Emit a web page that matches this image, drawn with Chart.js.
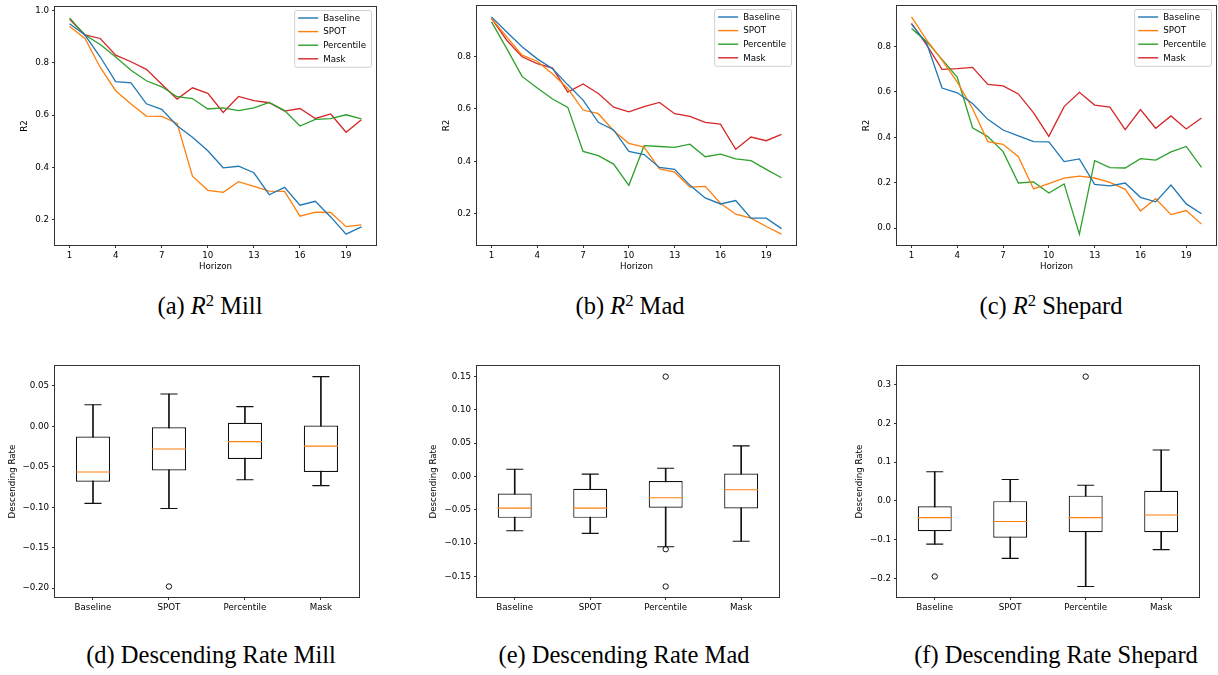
<!DOCTYPE html>
<html>
<head>
<meta charset="utf-8">
<script src="https://cdn.jsdelivr.net/npm/chart.js@4.4.1/dist/chart.umd.min.js"></script>
<style>
  body { margin:0; background:#fff; width:1218px; height:675px; position:relative; overflow:hidden; }
  .cap { position:absolute; font-family:"Liberation Serif", serif; font-size:24.5px; line-height:28px;
         transform:translateX(-50%); white-space:nowrap; color:#000; }
  .cap sup { font-size:0.68em; line-height:0; vertical-align:0.5em; }
</style>
</head>
<body>
<div class="cap" style="left:210px;top:292px">(a) <i>R</i><sup>2</sup> Mill</div>
<div class="cap" style="left:630px;top:292px">(b) <i>R</i><sup>2</sup> Mad</div>
<div class="cap" style="left:1051px;top:292px">(c) <i>R</i><sup>2</sup> Shepard</div>
<div class="cap" style="left:211px;top:641px">(d) Descending Rate Mill</div>
<div class="cap" style="left:624px;top:641px">(e) Descending Rate Mad</div>
<div class="cap" style="left:1056px;top:641px">(f) Descending Rate Shepard</div>
<script>
/* ============ DATA ============== */
const horizon = [1,2,3,4,5,6,7,8,9,10,11,12,13,14,15,16,17,18,19,20];
const horizonTicks = [1,4,7,10,13,16,19];
const methods = ["Baseline","SPOT","Percentile","Mask"];
const methodColors = ["#1f77b4","#ff7f0e","#2ca02c","#d62728"];

// R2 per horizon
const millBaseline   = [0.949,0.906,0.822,0.728,0.723,0.643,0.622,0.559,0.515,0.463,0.398,0.404,0.379,0.295,0.323,0.255,0.270,0.210,0.144,0.172];
const millSpot       = [0.939,0.893,0.782,0.693,0.642,0.596,0.595,0.568,0.366,0.312,0.304,0.345,0.327,0.309,0.308,0.213,0.228,0.227,0.173,0.180];
const millPercentile = [0.972,0.906,0.870,0.822,0.771,0.731,0.708,0.670,0.663,0.623,0.627,0.617,0.627,0.648,0.617,0.558,0.583,0.586,0.601,0.585];
const millMask       = [0.966,0.907,0.893,0.829,0.804,0.775,0.718,0.661,0.704,0.683,0.610,0.671,0.655,0.647,0.615,0.625,0.587,0.604,0.534,0.582];

const madBaseline   = [0.951,0.893,0.837,0.791,0.753,0.692,0.634,0.549,0.520,0.438,0.426,0.377,0.370,0.309,0.261,0.238,0.251,0.184,0.184,0.144];
const madSpot       = [0.945,0.875,0.805,0.782,0.733,0.678,0.596,0.582,0.517,0.469,0.455,0.372,0.359,0.302,0.305,0.241,0.199,0.184,0.152,0.123];
const madPercentile = [0.932,0.830,0.724,0.680,0.638,0.606,0.438,0.422,0.390,0.309,0.460,0.457,0.454,0.466,0.418,0.428,0.410,0.403,0.370,0.338];
const madMask       = [0.945,0.862,0.799,0.773,0.756,0.664,0.695,0.659,0.607,0.589,0.609,0.625,0.582,0.572,0.549,0.542,0.446,0.493,0.479,0.503];

const shepBaseline   = [0.898,0.813,0.617,0.596,0.549,0.479,0.432,0.406,0.381,0.380,0.293,0.305,0.193,0.186,0.199,0.136,0.116,0.190,0.107,0.064];
const shepSpot       = [0.930,0.828,0.740,0.643,0.527,0.381,0.369,0.315,0.173,0.196,0.220,0.229,0.221,0.202,0.171,0.076,0.130,0.060,0.078,0.018];
const shepPercentile = [0.879,0.821,0.743,0.664,0.442,0.403,0.337,0.199,0.204,0.155,0.195,-0.026,0.297,0.267,0.265,0.306,0.300,0.336,0.360,0.268];
const shepMask       = [0.901,0.806,0.699,0.702,0.708,0.633,0.626,0.591,0.508,0.404,0.535,0.598,0.542,0.533,0.434,0.522,0.440,0.494,0.437,0.485];

const millR2Ticks = [0.2,0.4,0.6,0.8,1.0];
const madR2Ticks  = [0.2,0.4,0.6,0.8];
const shepR2Ticks = [0.0,0.2,0.4,0.6,0.8];

// descending rate boxes, one value per method
const millLow  = [-0.0952,-0.1016,-0.0660,-0.0732];
const millQ1   = [-0.0684,-0.0544,-0.0404,-0.0564];
const millMed  = [-0.0564,-0.0280,-0.0188,-0.0244];
const millQ3   = [-0.0124,-0.0012, 0.0044, 0.0012];
const millHigh = [ 0.0268, 0.0400, 0.0244, 0.0616];
const millOutliers = [{x:"SPOT", y:-0.198}];

const madLow  = [-0.0814,-0.0853,-0.1053,-0.0970];
const madQ1   = [-0.0620,-0.0620,-0.0469,-0.0479];
const madMed  = [-0.0474,-0.0474,-0.0318,-0.0197];
const madQ3   = [-0.0255,-0.0182,-0.0066, 0.0046];
const madHigh = [ 0.0110, 0.0036, 0.0124, 0.0460];
const madOutliers = [{x:"Percentile", y:0.150},{x:"Percentile", y:-0.109},{x:"Percentile", y:-0.165}];

const shepLow  = [-0.1115,-0.1482,-0.2209,-0.1257];
const shepQ1   = [-0.0781,-0.0948,-0.0806,-0.0806];
const shepMed  = [-0.0431,-0.0531,-0.0431,-0.0364];
const shepQ3   = [-0.0139,-0.0005, 0.0137, 0.0262];
const shepHigh = [ 0.0755, 0.0554, 0.0404, 0.1314];
const shepOutliers = [{x:"Baseline", y:-0.195},{x:"Percentile", y:0.321}];

const millRateTicks = [-0.20,-0.15,-0.10,-0.05,0.00,0.05];
const madRateTicks  = [-0.15,-0.10,-0.05,0.00,0.05,0.10,0.15];
const shepRateTicks = [-0.2,-0.1,0.0,0.1,0.2,0.3];

/* ============ HELPERS ============== */
const FAMILY = '"DejaVu Sans", sans-serif';
const FSIZE = 8.7;
const PAD_T = 12, PAD_R = 2;
const INK = "#111";

const fmt = (v, d) => (Math.abs(v) < 1e-9 ? 0 : v).toFixed(d).replace("-", "\u2212");

function limits(vals){
  const lo = Math.min(...vals), hi = Math.max(...vals), m = (hi - lo) * 0.05;
  return [lo - m, hi + m];
}

function mountCanvas(box, axW, axH){
  const c = document.createElement("canvas");
  const w = box.r - box.l + axW + PAD_R, h = box.b - box.t + PAD_T + axH;
  c.width = w; c.height = h;
  c.style.cssText = `position:absolute;left:${box.l-axW}px;top:${box.t-PAD_T}px;width:${w}px;height:${h}px`;
  document.body.appendChild(c);
  return c;
}

// full box around the axes, like matplotlib spines
const frame = {
  id: "frame",
  afterDatasetsDraw(chart){
    const {ctx, chartArea:a} = chart;
    ctx.save();
    ctx.strokeStyle = "#333";
    ctx.lineWidth = 1;
    ctx.strokeRect(Math.round(a.left)-0.5, Math.round(a.top)-0.5, Math.round(a.right-a.left)+1, Math.round(a.bottom-a.top)+1);
    ctx.restore();
  }
};

// legend inside upper right corner
const boxLegend = {
  id: "boxLegend",
  afterDraw(chart){
    const {ctx, chartArea:a} = chart;
    const sets = chart.data.datasets;
    ctx.save();
    ctx.font = `${FSIZE}px ${FAMILY}`;
    const tw = Math.max(...sets.map(d => ctx.measureText(d.label).width));
    const rowH = 13.6;
    const w = 4 + 20 + 5 + tw + 5, h = 16 + (sets.length - 1) * rowH;
    const x0 = a.right - 5 - w, y0 = a.top + 3;
    ctx.beginPath();
    ctx.roundRect(x0 + 0.5, y0 + 0.5, w, h, 2);
    ctx.fillStyle = "rgba(255,255,255,0.8)";
    ctx.fill();
    ctx.strokeStyle = "#d0d0d0";
    ctx.lineWidth = 1;
    ctx.stroke();
    sets.forEach((d, i) => {
      const cy = y0 + 8 + i * rowH;
      ctx.beginPath();
      ctx.moveTo(x0 + 4, cy); ctx.lineTo(x0 + 24, cy);
      ctx.strokeStyle = d.borderColor; ctx.lineWidth = 1.4;
      ctx.stroke();
      ctx.fillStyle = "#000";
      ctx.textBaseline = "middle";
      ctx.fillText(d.label, x0 + 29, cy + 0.5);
    });
    ctx.restore();
  }
};

function axisBase(){
  return {
    border: {display:false},
    grid: {drawOnChartArea:false, drawTicks:true, tickLength:3, color:"#333", lineWidth:1, offset:false},
    ticks: {font:{family:FAMILY, size:FSIZE}, color:"#000", padding:3, autoSkip:false, maxRotation:0}
  };
}

/* ============ LINE PANELS ============== */
function lineChart(box, series, yTicks){
  const axW = 35, axH = 27;
  const [ymin, ymax] = limits(series.flat());
  const x = axisBase(), y = axisBase();
  Object.assign(x, {
    type:"linear", min:horizon[0] - 0.95, max:horizon[horizon.length-1] + 0.95,
    afterBuildTicks: s => { s.ticks = horizonTicks.map(v => ({value:v})); },
    afterFit: s => { s.height = axH; },
    title: {display:true, text:"Horizon", color:"#000", font:{family:FAMILY, size:FSIZE}, padding:0}
  });
  x.ticks.callback = v => String(v);
  Object.assign(y, {
    min:ymin, max:ymax,
    afterBuildTicks: s => { s.ticks = yTicks.map(v => ({value:v})); },
    afterFit: s => { s.width = axW; },
    title: {display:true, text:"R2", color:"#000", font:{family:FAMILY, size:FSIZE}, padding:0}
  });
  y.ticks.callback = v => fmt(v, 1);

  new Chart(mountCanvas(box, axW, axH), {
    type: "line",
    data: {
      datasets: series.map((s, i) => ({
        label: methods[i],
        data: horizon.map((hz, j) => ({x:hz, y:s[j]})),
        borderColor: methodColors[i], borderWidth: 1.3,
        pointRadius: 0, tension: 0, fill: false
      }))
    },
    options: {
      responsive:false, animation:false, events:[],
      layout: {padding:{top:PAD_T, right:PAD_R, left:0, bottom:0}},
      plugins: {legend:{display:false}, tooltip:{enabled:false}},
      scales: {x, y}
    },
    plugins: [frame, boxLegend]
  });
}

/* ============ BOX PANELS ============== */
function boxChart(box, low, q1, med, q3, high, outliers, yTicks, dec, axW){
  const axH = 20;
  const [ymin, ymax] = limits([...low, ...high, ...outliers.map(o => o.y)]);
  const boxHalf = c => (c.chart.chartArea ? c.chart.chartArea.width : 320) / methods.length * 0.45 / 2;
  const x = axisBase(), y = axisBase();
  Object.assign(x, { afterFit: s => { s.height = axH; } });
  Object.assign(y, {
    min:ymin, max:ymax,
    afterBuildTicks: s => { s.ticks = yTicks.map(v => ({value:v})); },
    afterFit: s => { s.width = axW; },
    title: {display:true, text:"Descending Rate", color:"#000", font:{family:FAMILY, size:FSIZE}, padding:0}
  });
  y.ticks.callback = v => fmt(v, dec);

  new Chart(mountCanvas(box, axW, axH), {
    type: "bar",
    data: {
      labels: methods,
      datasets: [
        {type:"bar", data: low.map((v, i) => [v, high[i]]), backgroundColor:INK,
         barThickness:1, grouped:false, order:5},
        {type:"bar", data: q1.map((v, i) => [v, q3[i]]), backgroundColor:"#fff",
         borderColor:INK, borderWidth:1.2, borderSkipped:false,
         barPercentage:0.45, categoryPercentage:1, grouped:false, order:4},
        {type:"line", data: low, showLine:false, pointStyle:"line",
         pointRadius: c => boxHalf(c) / 2, pointBorderColor:INK, pointBorderWidth:1.1, order:3},
        {type:"line", data: high, showLine:false, pointStyle:"line",
         pointRadius: c => boxHalf(c) / 2, pointBorderColor:INK, pointBorderWidth:1.1, order:3},
        {type:"line", data: med, showLine:false, pointStyle:"line",
         pointRadius: boxHalf, pointBorderColor:"#ff7f0e", pointBorderWidth:1.1, order:1},
        {type:"line", data: outliers, showLine:false, pointStyle:"circle",
         pointRadius:2.7, pointBackgroundColor:"rgba(0,0,0,0)", pointBorderColor:INK,
         pointBorderWidth:1, order:1}
      ]
    },
    options: {
      responsive:false, animation:false, events:[],
      layout: {padding:{top:PAD_T, right:PAD_R, left:0, bottom:0}},
      plugins: {legend:{display:false}, tooltip:{enabled:false}},
      scales: {x, y}
    },
    plugins: [frame]
  });
}

lineChart({l:55,  t:7, r:376,  b:245}, [millBaseline, millSpot, millPercentile, millMask], millR2Ticks);
lineChart({l:477, t:6, r:796,  b:245}, [madBaseline, madSpot, madPercentile, madMask], madR2Ticks);
lineChart({l:897, t:6, r:1216, b:245}, [shepBaseline, shepSpot, shepPercentile, shepMask], shepR2Ticks);

boxChart({l:55,  t:359, r:376,  b:597}, millLow, millQ1, millMed, millQ3, millHigh, millOutliers, millRateTicks, 2, 47);
boxChart({l:477, t:359, r:796,  b:597}, madLow, madQ1, madMed, madQ3, madHigh, madOutliers, madRateTicks, 2, 48);
boxChart({l:897, t:359, r:1216, b:597}, shepLow, shepQ1, shepMed, shepQ3, shepHigh, shepOutliers, shepRateTicks, 1, 42);
</script>
</body>
</html>
